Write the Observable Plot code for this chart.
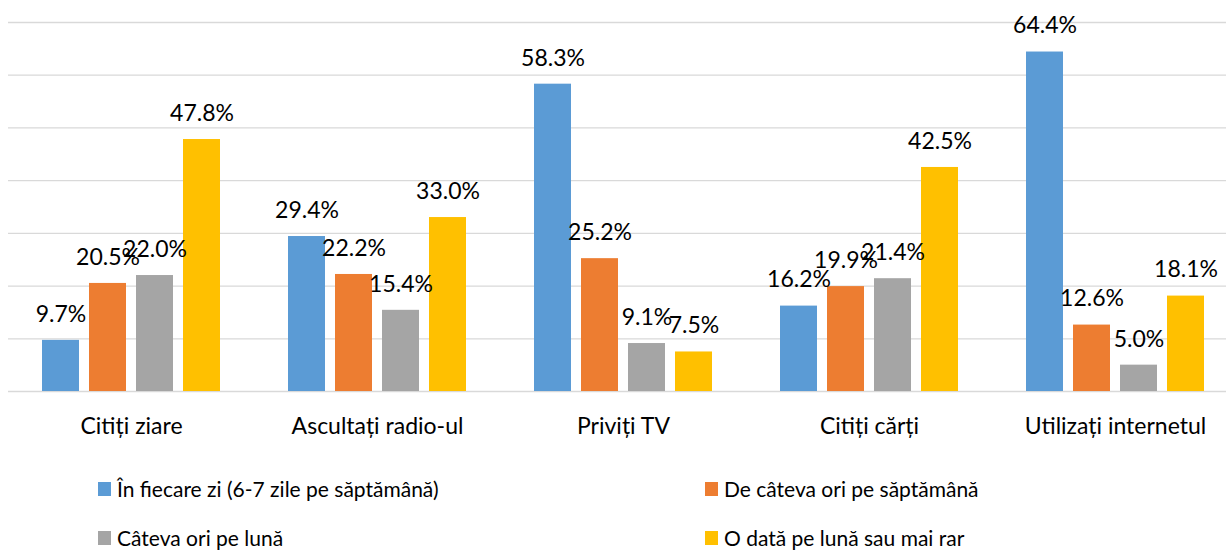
<!DOCTYPE html>
<html>
<head>
<meta charset="utf-8">
<script src="https://cdn.jsdelivr.net/npm/d3@7"></script>
<script src="https://cdn.jsdelivr.net/npm/@observablehq/plot@0.6"></script>
<style>
  html, body { margin: 0; padding: 0; background: #fff; overflow: hidden; width: 1226px; height: 550px; }
  #chart svg { overflow: hidden; }
  .legend { display: grid; grid-template-columns: 607px 500px; padding-left: 98px; padding-top: 14px; row-gap: 0; font-family: Lato, sans-serif; font-size: 21px; color: #000; }
  .legend .item { display: flex; align-items: center; height: 49px; }
  .legend .sw { width: 13px; height: 14px; margin-right: 6px; flex: none; }
</style>
</head>
<body>
<div id="chart"></div>
<div class="legend" id="legend"></div>
<script>
const categories = ["Citiți ziare", "Ascultați radio-ul", "Priviți TV", "Citiți cărți", "Utilizați internetul"];
const seriesNames = ["În fiecare zi (6-7 zile pe săptămână)", "De câteva ori pe săptămână", "Câteva ori pe lună", "O dată pe lună sau mai rar"];
const seriesColors = ["#5B9BD5", "#ED7D31", "#A5A5A5", "#FFC000"];
const dailyValues = [9.7, 29.4, 58.3, 16.2, 64.4];
const weeklyValues = [20.5, 22.2, 25.2, 19.9, 12.6];
const monthlyValues = [22.0, 15.4, 9.1, 21.4, 5.0];
const rareValues = [47.8, 33.0, 7.5, 42.5, 18.1];
const gridTicks = [0, 10, 20, 30, 40, 50, 60, 70];

const allValues = [dailyValues, weeklyValues, monthlyValues, rareValues];
const data = [];
categories.forEach((c, i) => {
  seriesNames.forEach((s, j) => data.push({cat: c, series: s, value: allValues[j][i]}));
});

const chart = Plot.plot({
  width: 1226,
  height: 450,
  marginTop: 22,
  marginBottom: 59,
  marginLeft: 8,
  marginRight: 0,
  style: {fontFamily: "Lato, sans-serif", color: "#000", background: "#fff"},
  fx: {domain: categories, range: [8, 1238], padding: 0, label: null},
  x: {domain: seriesNames, paddingInner: 0.22, paddingOuter: 0.71, axis: null},
  y: {domain: [0, 70], axis: null},
  color: {domain: seriesNames, range: seriesColors},
  marks: [
    Plot.ruleY(gridTicks, {stroke: "#d9d9d9", strokeWidth: 1.3}),
    Plot.barY(data, {fx: "cat", x: "series", y: "value", fill: "series"}),
    Plot.text(data, {fx: "cat", x: "series", y: "value", text: d => d.value.toFixed(1) + "%", dy: -26, fontSize: 23, fill: "#000"}),
    Plot.axisFx({domain: categories, anchor: "bottom", tickSize: 0, tickPadding: 26, fontSize: 23, label: null, fill: "#000"})
  ]
});
document.getElementById("chart").appendChild(chart);

const legend = document.getElementById("legend");
seriesNames.forEach((s, j) => {
  const item = document.createElement("div");
  item.className = "item";
  const sw = document.createElement("span");
  sw.className = "sw";
  sw.style.background = seriesColors[j];
  const t = document.createElement("span");
  t.textContent = s;
  item.appendChild(sw);
  item.appendChild(t);
  legend.appendChild(item);
});
</script>
</body>
</html>
